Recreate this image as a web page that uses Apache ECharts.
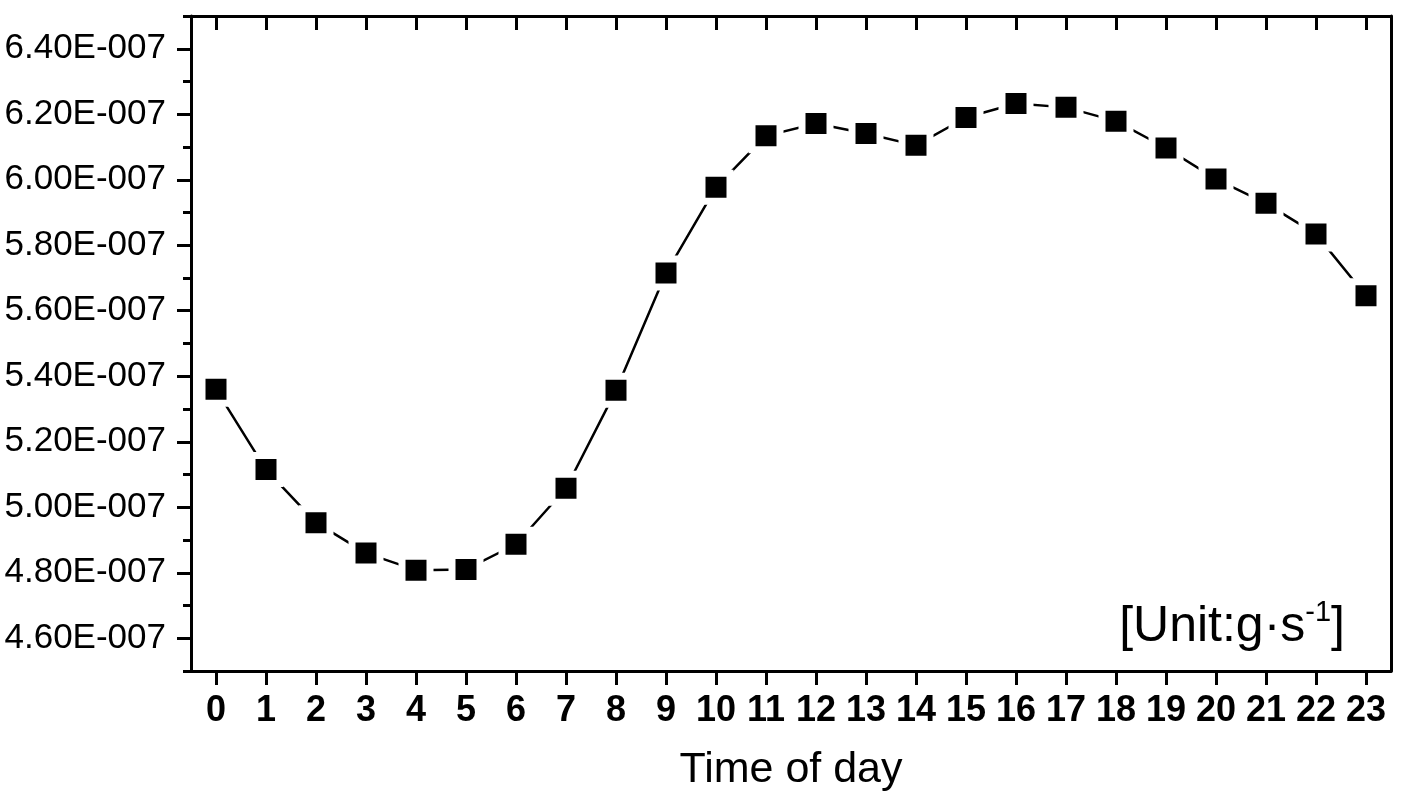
<!DOCTYPE html>
<html>
<head>
<meta charset="utf-8">
<script src="https://cdn.jsdelivr.net/npm/echarts@6/dist/echarts.min.js"></script>
<style>
  html, body { margin: 0; padding: 0; background: #fff; }
  #chart { width: 1417px; height: 793px; }
</style>
</head>
<body>
<div id="chart"></div>
<script>
// hourly values
var hours = ['0', '1', '2', '3', '4', '5', '6', '7', '8', '9', '10', '11',
             '12', '13', '14', '15', '16', '17', '18', '19', '20', '21', '22', '23'];
var emission = [5.36e-7, 5.115e-7, 4.953e-7, 4.86e-7, 4.808e-7, 4.81e-7, 4.887e-7, 5.058e-7,
                5.357e-7, 5.715e-7, 5.977e-7, 6.134e-7, 6.172e-7, 6.141e-7, 6.105e-7, 6.19e-7,
                6.233e-7, 6.221e-7, 6.179e-7, 6.097e-7, 6.002e-7, 5.928e-7, 5.834e-7, 5.646e-7];
var yMajorTicks = [4.6e-7, 4.8e-7, 5.0e-7, 5.2e-7, 5.4e-7, 5.6e-7, 5.8e-7, 6.0e-7, 6.2e-7, 6.4e-7];
var yMinorTicks = [4.5e-7, 4.7e-7, 4.9e-7, 5.1e-7, 5.3e-7, 5.5e-7, 5.7e-7, 5.9e-7, 6.1e-7, 6.3e-7, 6.5e-7];

var yMin = 4.5e-7, yMax = 6.5e-7;
var axisCol = '#000';
var font = 'Liberation Sans, Arial';

var option = {
    animation: false,
    grid: { left: 191, right: 26, top: 16, bottom: 122, outerBoundsMode: 'none' },
    xAxis: [{
        type: 'category',
        data: hours,
        position: 'bottom',
        axisLine: { show: true, lineStyle: { color: axisCol, width: 3 } },
        axisTick: { show: true, interval: 0, alignWithLabel: true, length: 14, lineStyle: { color: axisCol, width: 3 } },
        axisLabel: {
            interval: 0, hideOverlap: false,
            color: '#000', fontFamily: font, fontWeight: 'bold',
            fontSize: 36, margin: 22
        },
        splitLine: { show: false },
        name: 'Time of day',
        nameLocation: 'middle',
        nameGap: 78,
        nameTextStyle: { color: '#000', fontFamily: font, fontSize: 43 }
    }, {
        // top frame with inward ticks
        type: 'category',
        data: hours,
        position: 'top',
        axisLine: { show: true, lineStyle: { color: axisCol, width: 3 } },
        axisTick: { show: true, interval: 0, inside: true, alignWithLabel: true, length: 14, lineStyle: { color: axisCol, width: 3 } },
        axisLabel: { show: false, interval: 0 },
        splitLine: { show: false }
    }],
    yAxis: [{
        type: 'value',
        min: yMin,
        max: yMax,
        interval: 1e-8,
        axisLine: { show: true, lineStyle: { color: axisCol, width: 3 } },
        axisTick: { show: true, customValues: yMajorTicks, length: 14, lineStyle: { color: axisCol, width: 3 } },
        axisLabel: {
            customValues: yMajorTicks,
            color: '#000', fontFamily: font, fontSize: 35, margin: 25,
            formatter: function (v) { return (v * 1e7).toFixed(2) + 'E-007'; }
        },
        splitLine: { show: false }
    }, {
        // minor ticks
        type: 'value',
        min: yMin,
        max: yMax,
        interval: 1e-8,
        position: 'left',
        axisLine: { show: false },
        axisTick: { show: true, customValues: yMinorTicks, length: 8, lineStyle: { color: axisCol, width: 3 } },
        axisLabel: { show: false },
        splitLine: { show: false }
    }, {
        // right frame
        type: 'value',
        min: yMin,
        max: yMax,
        position: 'right',
        axisLine: { show: true, lineStyle: { color: axisCol, width: 3 } },
        axisTick: { show: false },
        axisLabel: { show: false },
        splitLine: { show: false }
    }],
    graphic: [{
        type: 'text',
        right: 72,
        top: 598,
        style: {
            text: '[Unit:g·s{sup|-1}]',
            fill: '#000',
            font: '50px Liberation Sans, Arial',
            rich: {
                sup: { fontSize: 29, fontFamily: font, verticalAlign: 'top', padding: [0, 0, 30, 0] }
            }
        }
    }],
    series: [{
        type: 'line',
        data: emission,
        xAxisIndex: 0,
        yAxisIndex: 0,
        symbol: 'rect',
        symbolSize: 28,
        itemStyle: { color: '#000', borderColor: '#fff', borderWidth: 7 },
        lineStyle: { color: '#000', width: 2.5 },
        emphasis: { disabled: true },
        z: 3
    }]
};

var myChart = echarts.init(document.getElementById('chart'));
myChart.setOption(option);
</script>
</body>
</html>
